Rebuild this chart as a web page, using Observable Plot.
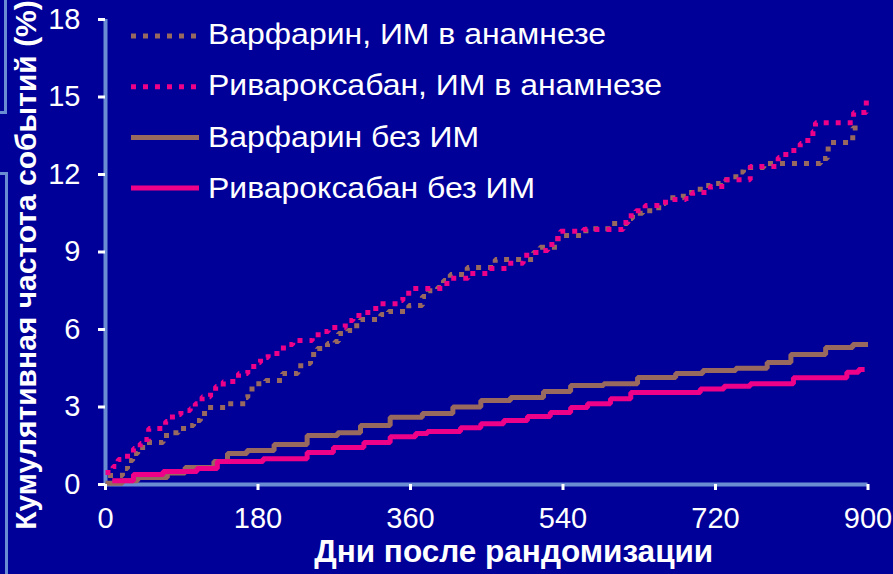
<!DOCTYPE html>
<html><head><meta charset="utf-8">
<script src="https://cdn.jsdelivr.net/npm/d3@7"></script>
<script src="https://cdn.jsdelivr.net/npm/@observablehq/plot@0.6"></script>
<style>
html,body{margin:0;padding:0;background:#000099;}
#wrap{position:relative;width:893px;height:574px;overflow:hidden;background:#000099;font-family:"Liberation Sans",Arial,sans-serif;}
.br{position:absolute;background:#6A8CD2;}
#legend{position:absolute;left:0;top:0;}
</style></head><body><div id="wrap"></div>
<script>
// Series labels
const seriesNames = ["Варфарин, ИМ в анамнезе", "Ривароксабан, ИМ в анамнезе", "Варфарин без ИМ", "Ривароксабан без ИМ"];
const seriesColors = ["#98695F", "#EE0088", "#98695F", "#EE0088"];
const xTicks = [0, 180, 360, 540, 720, 900];
const yTicks = [0, 3, 6, 9, 12, 15, 18];
const xTitle = "Дни после рандомизации";
const yTitle = "Кумулятивная частота событий (%)";

// Warfarin, prior MI (step points: day, cumulative %)
const warfMIDays = [3, 20, 26, 32, 38, 47, 68, 79, 86, 98, 104, 112, 120, 142, 165, 168, 177, 189, 209, 227, 238, 242, 250, 262, 271, 275, 286, 293, 301, 325, 334, 358, 374, 381, 392, 399, 407, 427, 460, 505, 513, 534, 567, 593, 616, 622, 634, 653, 661, 682, 702, 714, 726, 744, 753, 777, 844, 852, 853, 879, 882, 895];
const warfMIVals = [0.35, 0.62, 0.93, 1.2, 1.43, 1.63, 1.9, 2.0, 2.17, 2.28, 2.48, 2.75, 2.98, 3.13, 3.37, 3.7, 3.9, 4.03, 4.3, 4.6, 4.68, 5.03, 5.26, 5.46, 5.54, 5.85, 5.96, 6.15, 6.39, 6.58, 6.7, 6.93, 7.28, 7.5, 7.63, 7.9, 8.13, 8.4, 8.71, 8.98, 9.18, 9.64, 9.9, 10.1, 10.3, 10.5, 10.6, 10.88, 11.1, 11.3, 11.57, 11.65, 11.8, 12.1, 12.27, 12.43, 12.62, 12.85, 13.24, 13.3, 13.8, 13.8];

// Rivaroxaban, prior MI
const rivaMIDays = [0, 9, 15, 26, 33, 41, 45, 51, 71, 79, 89, 100, 106, 114, 124, 130, 139, 157, 168, 175, 183, 192, 210, 221, 244, 251, 263, 283, 292, 303, 319, 345, 351, 362, 398, 407, 428, 452, 474, 493, 504, 516, 522, 531, 537, 564, 611, 617, 626, 637, 661, 685, 693, 714, 732, 761, 794, 803, 820, 829, 835, 838, 883, 898];
const rivaMIVals = [0.46, 0.7, 0.97, 1.2, 1.39, 1.59, 1.74, 2.17, 2.44, 2.71, 2.86, 2.94, 3.13, 3.4, 3.56, 3.79, 3.99, 4.3, 4.45, 4.72, 4.92, 5.07, 5.42, 5.57, 5.69, 5.92, 6.08, 6.35, 6.54, 6.66, 7.0, 7.12, 7.4, 7.59, 7.78, 7.98, 8.17, 8.36, 8.56, 8.87, 8.98, 9.06, 9.29, 9.52, 9.8, 9.87, 10.14, 10.4, 10.6, 10.8, 11.03, 11.07, 11.3, 11.54, 11.8, 12.31, 12.66, 12.93, 13.2, 13.43, 13.67, 14.0, 14.4, 14.9];

// Warfarin, no prior MI
const warfDays = [0, 20, 38, 73, 94, 128, 144, 167, 199, 238, 274, 301, 336, 374, 410, 443, 478, 517, 549, 588, 628, 673, 705, 744, 781, 809, 850, 882, 900];
const warfVals = [0.05, 0.15, 0.27, 0.45, 0.66, 0.89, 1.2, 1.32, 1.55, 1.9, 2.0, 2.28, 2.6, 2.75, 3.0, 3.25, 3.37, 3.6, 3.83, 3.9, 4.14, 4.3, 4.41, 4.5, 4.72, 5.03, 5.3, 5.42, 5.42];

// Rivaroxaban, no prior MI
const rivaDays = [8, 33, 68, 108, 132, 186, 238, 269, 305, 336, 366, 380, 419, 443, 470, 498, 525, 549, 569, 596, 620, 702, 730, 761, 812, 875, 889, 896];
const rivaVals = [0.15, 0.39, 0.5, 0.62, 0.89, 1.0, 1.24, 1.43, 1.63, 1.85, 1.97, 2.05, 2.2, 2.35, 2.48, 2.63, 2.79, 2.98, 3.13, 3.32, 3.56, 3.7, 3.8, 3.9, 4.13, 4.35, 4.45, 4.45];

const toRows = (days, vals, s) => days.map((d, i) => ({day: d, value: vals[i], series: s}));
const rows = [
  toRows(warfMIDays, warfMIVals, seriesNames[0]),
  toRows(rivaMIDays, rivaMIVals, seriesNames[1]),
  toRows(warfDays, warfVals, seriesNames[2]),
  toRows(rivaDays, rivaVals, seriesNames[3])
];

const axisBlue = "#6A8CD2";
const lineOpts = (i, dashed) => ({
  x: "day", y: "value", stroke: seriesColors[i], strokeWidth: 5, curve: "step-after",
  strokeLinecap: "butt", strokeLinejoin: "miter",
  strokeDasharray: dashed ? "5,7" : null
});

const plot = Plot.plot({
  width: 893, height: 574,
  marginLeft: 105, marginRight: 25.5, marginTop: 19, marginBottom: 90,
  style: {background: "transparent", color: "white", fontFamily: "'Liberation Sans', Arial, sans-serif", fontSize: "29px", overflow: "visible"},
  x: {domain: [0, 900]},
  y: {domain: [0, 18]},
  marks: [
    Plot.ruleX([0], {y1: 0, y2: 18, stroke: axisBlue, strokeWidth: 4}),
    Plot.ruleY([0], {x1: 0, x2: 900, stroke: axisBlue, strokeWidth: 4}),
    Plot.line(rows[2], lineOpts(2, false)),
    Plot.line(rows[3], lineOpts(3, false)),
    Plot.line(rows[0], lineOpts(0, true)),
    Plot.line(rows[1], lineOpts(1, true)),
    Plot.axisX({ticks: xTicks, tickSize: 6, tickPadding: 17, strokeWidth: 3, stroke: "white", fill: "white", fontSize: 29, label: null}),
    Plot.axisY({ticks: yTicks, tickSize: 7, strokeWidth: 3, stroke: "white", tickFormat: () => "", label: null}),
    Plot.text(yTicks, {y: d => d, frameAnchor: "left", dx: -25, textAnchor: "end", fill: "white", fontSize: 29}),
    Plot.text([yTitle], {frameAnchor: "left", dx: -79, dy: 13, rotate: -90, fill: "white", fontWeight: "bold", fontSize: 30, textAnchor: "middle"}),
    Plot.text([xTitle], {frameAnchor: "bottom", dx: 27, dy: 77, fill: "white", fontWeight: "bold", fontSize: 31.5, textAnchor: "middle"})
  ]
});

const wrap = document.getElementById("wrap");
wrap.appendChild(plot);

// decorative slide brackets at left edge
[[4, 0, 3, 114], [0, 111, 7, 3], [0, 172, 8, 3], [5, 172, 3, 402]].forEach(([l, t, w, h]) => {
  const d = document.createElement("div");
  d.className = "br";
  d.style.left = l + "px"; d.style.top = t + "px"; d.style.width = w + "px"; d.style.height = h + "px";
  wrap.appendChild(d);
});

// legend
const svgNS = "http://www.w3.org/2000/svg";
const lg = document.createElementNS(svgNS, "svg");
lg.setAttribute("id", "legend");
lg.setAttribute("width", 893); lg.setAttribute("height", 230);
seriesNames.forEach((name, i) => {
  const ly = 36 + i * 50.7;
  const ln = document.createElementNS(svgNS, "line");
  ln.setAttribute("x1", 131); ln.setAttribute("x2", 199);
  ln.setAttribute("y1", ly); ln.setAttribute("y2", ly);
  ln.setAttribute("stroke", seriesColors[i]); ln.setAttribute("stroke-width", 5);
  if (i < 2) ln.setAttribute("stroke-dasharray", "5,7");
  lg.appendChild(ln);
  const tx = document.createElementNS(svgNS, "text");
  tx.setAttribute("transform", `translate(208,${44 + i * 51.3}) scale(1.065,1)`);
  tx.setAttribute("fill", "white");
  tx.setAttribute("font-size", 30);
  tx.setAttribute("font-family", "'Liberation Sans', Arial, sans-serif");
  tx.textContent = name;
  lg.appendChild(tx);
});
wrap.appendChild(lg);
</script></body></html>
